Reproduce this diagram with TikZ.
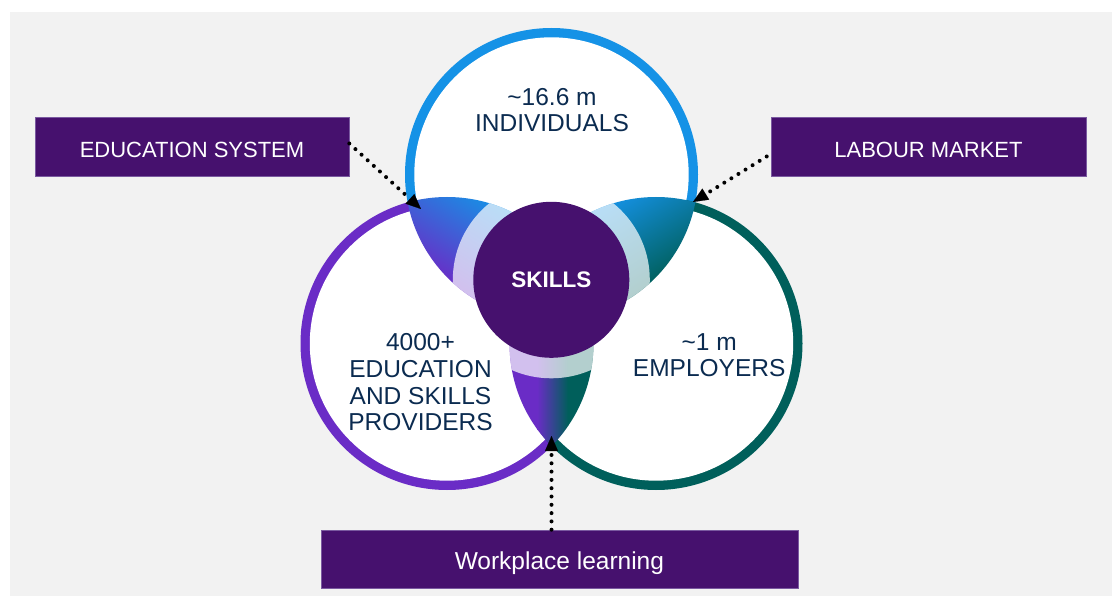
\documentclass[tikz,border=0pt]{standalone}
\usepackage{fontspec}
\setmainfont{Liberation Sans}
\usetikzlibrary{arrows.meta,calc}
\definecolor{bgray}{HTML}{F2F2F2}
\definecolor{cblue}{HTML}{1592E6}
\definecolor{cpurple}{HTML}{6A2CC6}
\definecolor{cteal}{HTML}{005F5B}
\definecolor{dpurple}{HTML}{46116E}
\definecolor{navy}{HTML}{0B2B50}
\definecolor{boxline}{HTML}{7A5AA0}
\begin{document}
\begin{tikzpicture}[x=1pt,y=-1pt,
  circtext/.style={text=navy, font=\fontsize{24.5}{27}\selectfont, anchor=base, inner sep=0pt},
  boxstyle/.style={fill=dpurple, draw=boxline, line width=0.6pt, text=white, inner sep=0pt,
     font=\fontsize{22}{26}\selectfont},
  dotarrow/.style={line width=4pt, line cap=round, dash pattern=on 0pt off 8.3pt,
     -{Triangle[length=15pt,width=13pt,line width=0.1pt]}},
  lightband/.style={fill=white, opacity=0.7}
]
\useasboundingbox (0,0) rectangle (1112,596);
\fill[white] (0,0) rectangle (1112,596);
\fill[bgray] (10,12) rectangle (1112,596);

\coordinate (cT) at (551.5,174.5);
\coordinate (cL) at (447,343.5);
\coordinate (cR) at (656,343.5);
\coordinate (cS) at (551.3,279.8);

% rings
\fill[cblue] (cT) circle[radius=146.5pt];
\fill[cpurple] (cL) circle[radius=146.5pt];
\fill[cteal] (cR) circle[radius=146.5pt];
\fill[white] (cT) circle[radius=137.2pt];
\fill[white] (cL) circle[radius=137.2pt];
\fill[white] (cR) circle[radius=137.2pt];

% lens top-left
\begin{scope}
  \clip (cT) circle[radius=146.5pt];
  \clip (cL) circle[radius=146.5pt];
  \begin{scope}[transform canvas={shift={(499.25,259)}, rotate=-121.7}]
    \shade[left color=cblue, right color=cpurple] (-48,-130) rectangle (48,130);
  \end{scope}
  \fill[lightband] (cS) circle[radius=98.5pt];
\end{scope}

% lens top-right
\begin{scope}
  \clip (cT) circle[radius=146.5pt];
  \clip (cR) circle[radius=146.5pt];
  \begin{scope}[transform canvas={shift={(603.75,259)}, rotate=-58.3}]
    \shade[left color=cblue, right color=cteal] (-48,-130) rectangle (48,130);
  \end{scope}
  \fill[lightband] (cS) circle[radius=98.5pt];
\end{scope}

% lens bottom
\begin{scope}
  \clip (cL) circle[radius=146.5pt];
  \clip (cR) circle[radius=146.5pt];
  \fill[cpurple] (500,180) rectangle (537.5,460);
  \shade[left color=cpurple, right color=cteal] (537,180) rectangle (568,460);
  \fill[cteal] (567.5,180) rectangle (600,460);
  \fill[lightband] (cS) circle[radius=98.5pt];
\end{scope}

% centre
\node[circle, fill=dpurple, minimum size=156pt, inner sep=0pt, text=white,
      font=\bfseries\fontsize{22.5}{27}\selectfont] (skills) at (cS) {SKILLS};

% circle texts
\node[circtext] (ind1) at (552,106) {\textasciitilde16.6 m};
\node[circtext] (ind2) at (552,131.7) {INDIVIDUALS};
\node[circtext] (edp1) at (420.5,350.7) {4000+};
\node[circtext] (edp2) at (420.5,377.3) {EDUCATION};
\node[circtext] (edp3) at (420.5,404) {AND SKILLS};
\node[circtext] (edp4) at (420.5,430.7) {PROVIDERS};
\node[circtext] (emp1) at (709.2,350) {\textasciitilde1 m};
\node[circtext] (emp2) at (709.2,376.7) {EMPLOYERS};

% boxes
\node[boxstyle, minimum width=314pt, minimum height=59pt, text height=21.6pt, text depth=0pt]
  (edu) at (192,146.5) {EDUCATION SYSTEM};
\node[boxstyle, minimum width=315pt, minimum height=59pt, text height=21.6pt, text depth=0pt]
  (lab) at (928.5,146.5) {LABOUR MARKET};
\node[boxstyle, minimum width=477pt, minimum height=58pt, text height=25pt, text depth=5pt,
      font=\fontsize{24.5}{28}\selectfont]
  (work) at (559.4,559) {Workplace learning};

% arrow targets
\coordinate (eduTip) at (421,209);
\coordinate (labTip) at (693,202);
\coordinate (workTip) at (551.5,436);

\draw[dotarrow] ([yshift=3pt]edu.east) -- (eduTip);
\draw[dotarrow] ([xshift=-4pt,yshift=-10pt]lab.west) -- (labTip);
\draw[dotarrow] ([xshift=-7.9pt]work.north) -- (workTip);
\end{tikzpicture}
\end{document}
